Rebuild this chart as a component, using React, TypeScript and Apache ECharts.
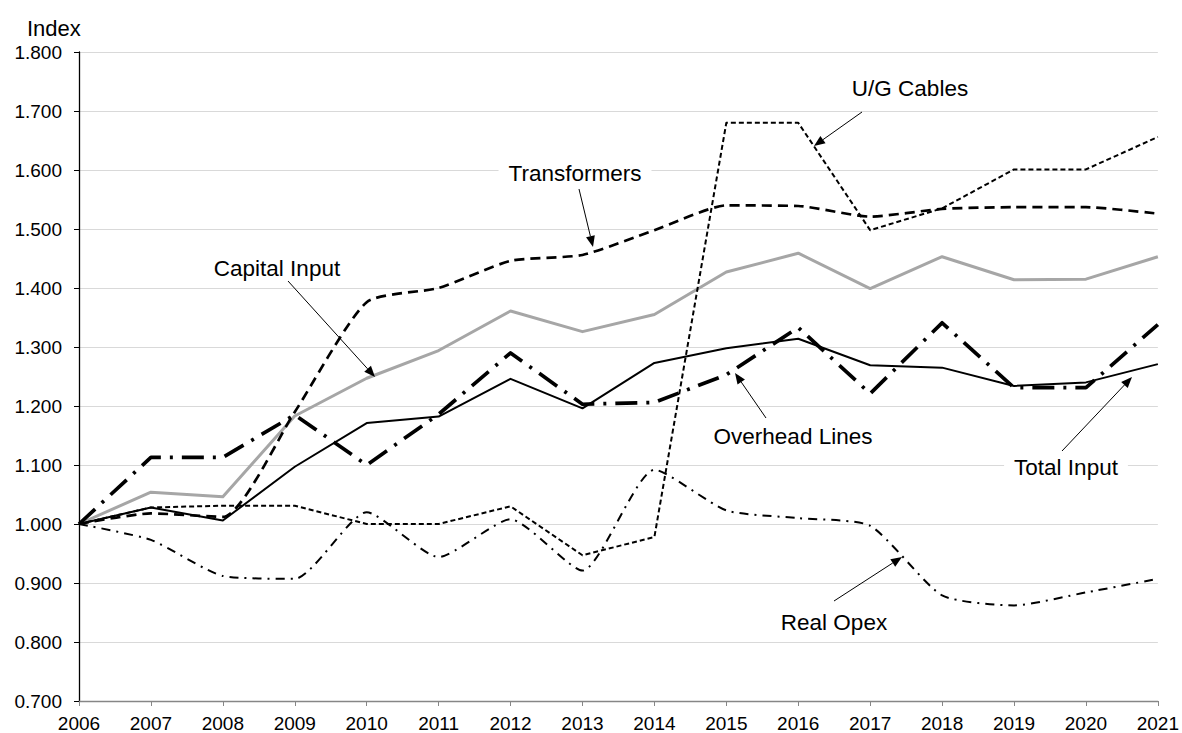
import React, { useEffect, useRef } from "react";
import * as echarts from "echarts";

const years = ["2006","2007","2008","2009","2010","2011","2012","2013","2014","2015","2016","2017","2018","2019","2020","2021"];
const capitalInput = [1.000, 1.054, 1.046, 1.183, 1.247, 1.294, 1.361, 1.326, 1.355, 1.427, 1.459, 1.399, 1.453, 1.414, 1.415, 1.453];
const totalInput = [1.000, 1.028, 1.006, 1.097, 1.171, 1.182, 1.246, 1.196, 1.273, 1.298, 1.314, 1.269, 1.265, 1.234, 1.240, 1.271];
const overheadLines = [1.000, 1.113, 1.113, 1.185, 1.100, 1.186, 1.290, 1.203, 1.206, 1.253, 1.333, 1.221, 1.341, 1.231, 1.231, 1.338];
const transformers = [1.000, 1.018, 1.012, 1.190, 1.376, 1.400, 1.446, 1.456, 1.498, 1.540, 1.539, 1.521, 1.534, 1.537, 1.537, 1.526];
const ugCables = [1.000, 1.028, 1.031, 1.031, 1.000, 1.000, 1.030, 0.947, 0.978, 1.680, 1.680, 1.498, 1.535, 1.601, 1.601, 1.656];
const realOpex = [1.000, 0.973, 0.912, 0.907, 1.020, 0.944, 1.008, 0.921, 1.092, 1.023, 1.010, 0.997, 0.879, 0.862, 0.884, 0.907];

const FONT = '"Liberation Sans", Arial, sans-serif';

// annotation: label text, label centre, arrow start, arrow tip
const annotations: Array<[string, number, number, number, number, number, number]> = [
  ["U/G Cables", 910, 88, 862, 112, 814, 146],
  ["Transformers", 575, 173, 579, 189, 593, 247],
  ["Capital Input", 277, 268, 288, 281, 375, 377],
  ["Overhead Lines", 793, 436, 766, 418, 735, 373],
  ["Total Input", 1066, 467, 1062, 451, 1132, 377],
  ["Real Opex", 834, 622, 834, 601, 902, 557],
];

function arrowElements(x1: number, y1: number, x2: number, y2: number) {
  const a = Math.atan2(y2 - y1, x2 - x1);
  const L = 11, W = 4.5;
  const c = Math.cos(a), s = Math.sin(a);
  const bx = x2 - L * c, by = y2 - L * s;
  return [
    { type: "line", z: 20, shape: { x1, y1, x2: bx, y2: by }, style: { stroke: "#000", lineWidth: 1 } },
    {
      type: "polygon", z: 20,
      shape: { points: [[x2, y2], [bx - W * s, by + W * c], [bx + W * s, by - W * c]] },
      style: { fill: "#000" },
    },
  ];
}

export default function App() {
  const ref = useRef<HTMLDivElement>(null);
  useEffect(() => {
    if (!ref.current) return;
    const chart = echarts.init(ref.current, undefined, { renderer: "svg" });
    const graphic: any[] = [
      {
        type: "text", z: 20, left: 27, top: 17,
        style: { text: "Index", fontSize: 22, fontFamily: FONT, fill: "#000" },
      },
    ];
    annotations.forEach(([t, tx, ty, x1, y1, x2, y2]) => {
      graphic.push({
        type: "text", z: 20, x: tx, y: ty,
        style: {
          text: t, fontSize: 22.5, fontFamily: FONT, fill: "#000",
          align: "center", verticalAlign: "middle",
          backgroundColor: "#fff", padding: [2, 10],
        },
      });
      graphic.push(...arrowElements(x1, y1, x2, y2));
    });
    const mk = (name: string, data: number[], color: string, width: number, type: any, smooth: number | boolean) => ({
      name, type: "line", data, symbol: "none", smooth,
      lineStyle: { color, width, type, cap: "butt", join: "round" },
    });
    chart.setOption({
      animation: false,
      backgroundColor: "#fff",
      grid: { left: 79, right: 22, top: 52, bottom: 30, containLabel: false },
      xAxis: {
        type: "category", data: years, boundaryGap: false,
        axisLine: { lineStyle: { color: "#868686", width: 1.3 } },
        axisTick: { show: true, length: 5, lineStyle: { color: "#868686" } },
        axisLabel: { fontSize: 19, fontFamily: FONT, color: "#000", margin: 13, interval: 0 },
        splitLine: { show: false },
      },
      yAxis: {
        type: "value", min: 0.7, max: 1.8, interval: 0.1,
        axisLine: { show: true, lineStyle: { color: "#000", width: 1.3 } },
        axisTick: { show: true, length: 5, lineStyle: { color: "#000" } },
        axisLabel: { fontSize: 19, fontFamily: FONT, color: "#000", margin: 17, formatter: (v: number) => v.toFixed(3) },
        splitLine: { show: true, lineStyle: { color: "#d9d9d9", width: 1.2 } },
      },
      series: [
        mk("Capital Input", capitalInput, "#a6a6a6", 3, "solid", false),
        mk("Real Opex", realOpex, "#000", 2, [9, 6, 2, 6], 0.2),
        mk("U/G Cables", ugCables, "#000", 2, [5, 3], false),
        mk("Transformers", transformers, "#000", 2.7, [10, 6], 0.2),
        mk("Total Input", totalInput, "#000", 2, "solid", false),
        mk("Overhead Lines", overheadLines, "#000", 3.7, [22, 9, 3, 9], false),
      ],
      graphic,
    });
    return () => chart.dispose();
  }, []);
  return <div ref={ref} style={{ position: "fixed", left: 0, top: 0, width: 1182, height: 733 }} />;
}
